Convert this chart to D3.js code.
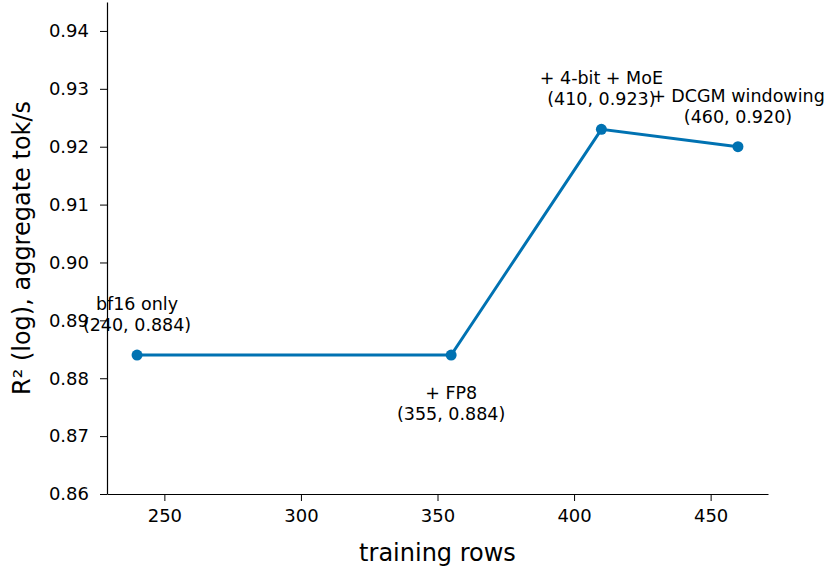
<!DOCTYPE html>
<html>
<head>
<meta charset="utf-8">
<script src="https://cdn.jsdelivr.net/npm/d3@7"></script>
<style>
  body { margin: 0; background: #fff; }
  text { font-family: "DejaVu Sans", sans-serif; fill: #000; }
</style>
</head>
<body>
<div id="chart"></div>
<script>
// data
const rows = [240, 355, 410, 460];
const r2 = [0.884, 0.884, 0.923, 0.920];
const labels = ["bf16 only", "+ FP8", "+ 4-bit + MoE", "+ DCGM windowing"];
const labelSide = ["above", "below", "above", "above"];
const xTicks = [250, 300, 350, 400, 450];
const yTicks = [0.86, 0.87, 0.88, 0.89, 0.90, 0.91, 0.92, 0.93, 0.94];

const width = 826, height = 571;
const margin = { top: 2, right: 58, bottom: 77, left: 107 };

const svg = d3.select("#chart").append("svg")
  .attr("width", width)
  .attr("height", height);

const x = d3.scaleLinear()
  .domain([229, 471])
  .range([margin.left, width - margin.right]);

const y = d3.scaleLinear()
  .domain([0.86, 0.945])
  .range([height - margin.bottom, margin.top]);

// axes
const xAxis = svg.append("g")
  .attr("transform", `translate(0,${height - margin.bottom})`)
  .call(d3.axisBottom(x).tickValues(xTicks).tickSize(7).tickPadding(8).tickSizeOuter(0));

const yAxis = svg.append("g")
  .attr("transform", `translate(${margin.left},0)`)
  .call(d3.axisLeft(y).tickValues(yTicks).tickFormat(d3.format(".2f")).tickSize(7).tickPadding(11).tickSizeOuter(0));

[xAxis, yAxis].forEach(g => {
  g.attr("font-size", null).attr("font-family", null);
  g.selectAll("text").style("font-size", "18px").attr("fill", "#000");
  g.selectAll("line").attr("stroke", "#000");
  g.select(".domain").attr("stroke", "#000").attr("stroke-width", 1.2);
});

svg.append("text")
  .attr("x", (margin.left + width - margin.right) / 2)
  .attr("y", 561)
  .attr("text-anchor", "middle")
  .style("font-size", "24px")
  .text("training rows");

svg.append("text")
  .attr("transform", `translate(30,${(margin.top + height - margin.bottom) / 2}) rotate(-90)`)
  .attr("text-anchor", "middle")
  .style("font-size", "24px")
  .text("R² (log), aggregate tok/s");

// line + markers
const pts = rows.map((d, i) => ({ x: d, y: r2[i], label: labels[i], side: labelSide[i] }));

svg.append("path")
  .datum(pts)
  .attr("fill", "none")
  .attr("stroke", "#0072B2")
  .attr("stroke-width", 3)
  .attr("d", d3.line().x(d => x(d.x)).y(d => y(d.y)));

svg.selectAll("circle.pt")
  .data(pts)
  .join("circle")
  .attr("class", "pt")
  .attr("cx", d => x(d.x))
  .attr("cy", d => y(d.y))
  .attr("r", 5.5)
  .attr("fill", "#0072B2");

// annotations
const ann = svg.selectAll("text.ann")
  .data(pts)
  .join("text")
  .attr("class", "ann")
  .attr("text-anchor", "middle")
  .style("font-size", "17.5px");

ann.append("tspan")
  .attr("x", d => x(d.x))
  .attr("y", d => d.side === "above" ? y(d.y) - 45 : y(d.y) + 44)
  .text(d => d.label);

ann.append("tspan")
  .attr("x", d => x(d.x))
  .attr("y", d => d.side === "above" ? y(d.y) - 24 : y(d.y) + 65)
  .text(d => `(${d.x}, ${d.y.toFixed(3)})`);
</script>
</body>
</html>
